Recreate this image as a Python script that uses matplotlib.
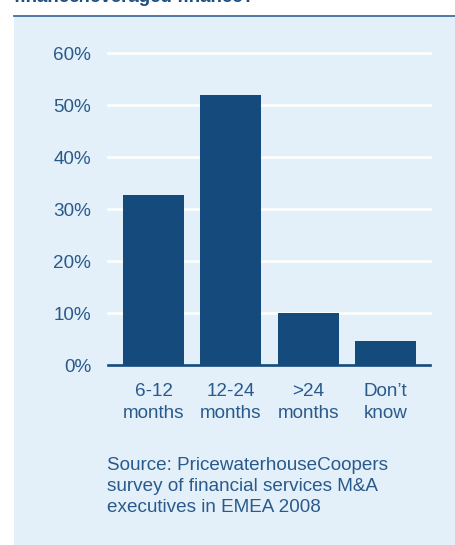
import matplotlib.pyplot as plt
from matplotlib.patches import Rectangle
from matplotlib.lines import Line2D
import numpy as np

plt.rcParams['font.family'] = ['Liberation Sans', 'DejaVu Sans']

# datos
categorias = ['6-12\nmonths', '12-24\nmonths', '>24\nmonths', 'Don\u2019t\nknow']
valores = [32.7, 52.0, 10.0, 4.6]
ticks_y = [0, 10, 20, 30, 40, 50, 60]
etiquetas_y = ['0%', '10%', '20%', '30%', '40%', '50%', '60%']

azul_barra = '#154a7d'
azul_texto = '#2a5a8c'
fondo = '#e3f0f9'
tam = 13.6

W, H = 456, 545
fig = plt.figure(figsize=(W / 100, H / 100), dpi=100)
fig.patch.set_facecolor('white')

# fondo azul claro y linea superior
fig.patches.append(Rectangle((14 / W, 0), 1 - 14 / W, (H - 17) / H,
                             transform=fig.transFigure, facecolor=fondo,
                             edgecolor='none', zorder=-5))
fig.lines.append(Line2D([14 / W, 1], [1 - 16 / H, 1 - 16 / H],
                        transform=fig.transFigure, color='#3d6ea3', lw=1.3,
                        zorder=-4))

# titulo cortado arriba
fig.text(14 / W, 1 - 1.5 / H, 'finance/leveraged finance?', ha='left',
         va='baseline', fontsize=13.5, fontweight='bold', color='#1d4f82')

ax = fig.add_axes([108 / W, (H - 365) / H, (430 - 108) / W, (365 - 53) / H])
ax.set_facecolor('none')
ax.set_zorder(2)

x = np.arange(len(categorias))
ax.bar(x, valores, width=0.79, color=azul_barra, zorder=3)

ax.set_ylim(0, 60)
ax.set_xlim(-0.59, 3.576)
for t in ticks_y[1:]:
    ax.axhline(t, color='white', lw=1.9, zorder=1, clip_on=False)
ax.axhline(0, color=azul_barra, lw=1.9, zorder=4, clip_on=False)

ax.set_yticks(ticks_y)
ax.set_yticklabels(etiquetas_y)
ax.set_xticks(x)
ax.set_xticklabels(categorias, linespacing=1.35)
ax.tick_params(axis='y', length=0, pad=12, labelsize=tam, labelcolor=azul_texto)
ax.tick_params(axis='x', length=0, pad=13, labelsize=tam, labelcolor=azul_texto)
for s in ax.spines.values():
    s.set_visible(False)

fig.text(107 / W, 1 - 457 / H,
         'Source: PricewaterhouseCoopers\nsurvey of financial services M&A\nexecutives in EMEA 2008',
         ha='left', va='top', fontsize=tam, color=azul_texto, linespacing=1.3)

fig.savefig('out.png', dpi=100)
